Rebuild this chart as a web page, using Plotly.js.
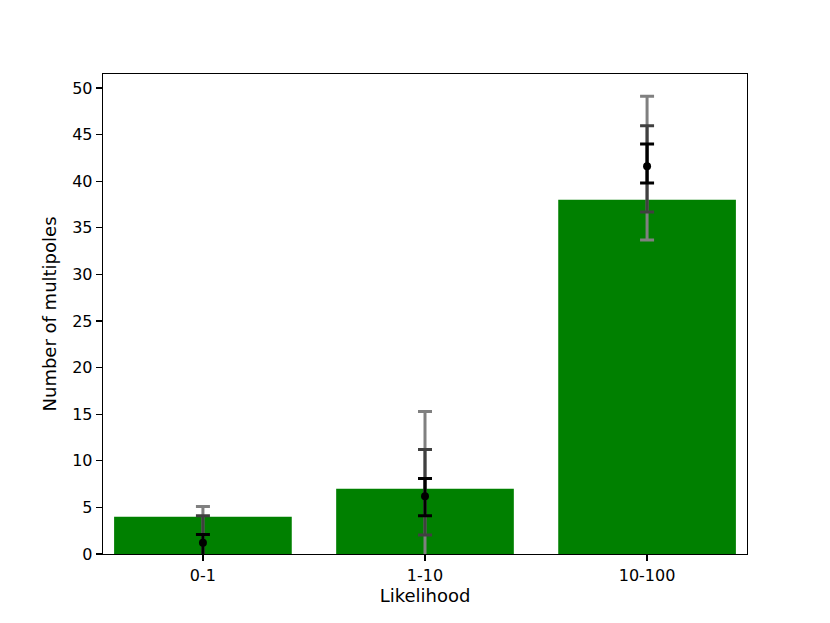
<!DOCTYPE html>
<html>
<head>
<meta charset="utf-8">
<script src="https://cdn.plot.ly/plotly-3.0.1.min.js"></script>
<style>
  html, body { margin: 0; padding: 0; background: #fff; }
  #chart { width: 830px; height: 623px; }
</style>
</head>
<body>
<div id="chart"></div>
<script>
// likelihood bins and number of multipoles in each
const bins = ['0-1', '1-10', '10-100'];
const counts = [4, 7, 38];

// median of the simulated counts, with 1, 2 and 3 sigma intervals
const median = [1.2, 6.2, 41.6];
const lo1 = [-0.5, 4.1, 39.8];
const hi1 = [2.1, 8.1, 44.0];
const lo2 = [-1.0, 2.05, 36.7];
const hi2 = [4.1, 11.2, 45.95];
const lo3 = [-1.5, -1.5, 33.7];
const hi3 = [5.1, 15.3, 49.1];

const yTicks = [0, 5, 10, 15, 20, 25, 30, 35, 40, 45, 50];

const font = 'DejaVu Sans, sans-serif';

function band(lo, hi, color, showPoint) {
    return {
        x: bins,
        y: median,
        type: 'scatter',
        mode: 'markers',
        marker: { color: 'black', size: showPoint ? 8 : 0.1, opacity: showPoint ? 1 : 0 },
        error_y: {
            type: 'data',
            symmetric: false,
            array: hi.map((v, i) => v - median[i]),
            arrayminus: median.map((m, i) => m - lo[i]),
            color,
            thickness: 3,
            width: 7,
        },
        hoverinfo: 'skip',
        showlegend: false,
    };
}

const bars = {
    x: bins,
    y: counts,
    type: 'bar',
    marker: { color: '#008000' },
    showlegend: false,
};

const data = [
    bars,
    band(lo3, hi3, '#808080', false),
    band(lo2, hi2, '#404040', false),
    band(lo1, hi1, '#000000', true),
];

const layout = {
    width: 830,
    height: 623,
    paper_bgcolor: '#fff',
    plot_bgcolor: '#fff',
    font: { family: font, color: '#000', size: 16 },
    margin: { l: 103, r: 83, t: 74, b: 69 },
    bargap: 0.2,
    xaxis: {
        type: 'category',
        range: [-0.45, 2.45],
        showline: true,
        linecolor: '#000',
        linewidth: 1.3,
        mirror: true,
        ticks: 'outside',
        ticklen: 6,
        tickwidth: 1.3,
        tickcolor: '#000',
        showgrid: false,
        zeroline: false,
        tickfont: { family: font, size: 16 },
        title: { text: 'Likelihood', font: { family: font, size: 18 }, standoff: 6 },
    },
    yaxis: {
        range: [0, 51.5],
        tickvals: yTicks,
        ticktext: yTicks.map(String),
        showline: true,
        linecolor: '#000',
        linewidth: 1.3,
        mirror: true,
        ticks: 'outside',
        ticklen: 6,
        tickwidth: 1.3,
        tickcolor: '#000',
        showgrid: false,
        zeroline: false,
        tickfont: { family: font, size: 16 },
        title: { text: 'Number of multipoles', font: { family: font, size: 18 }, standoff: 10 },
    },
};

Plotly.newPlot('chart', data, layout, { displayModeBar: false, staticPlot: true });
</script>
</body>
</html>
